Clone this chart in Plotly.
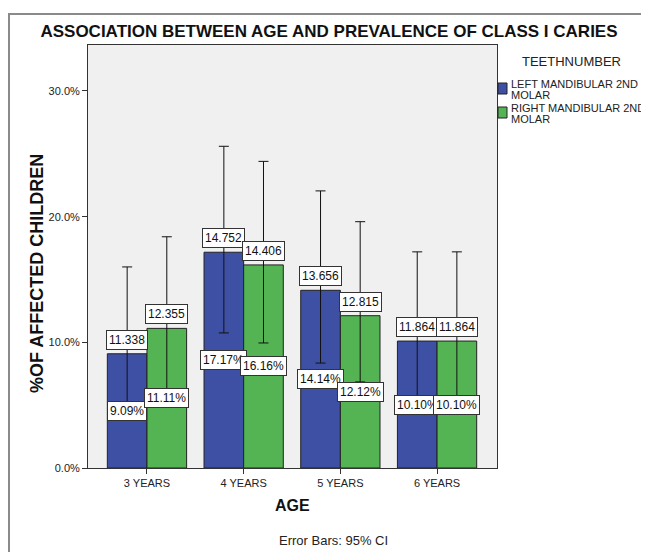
import plotly.graph_objects as go

# ---------------- data ----------------
ages = ["3 YEARS", "4 YEARS", "5 YEARS", "6 YEARS"]
left_pct = [9.09, 17.17, 14.14, 10.10]
right_pct = [11.11, 16.16, 12.12, 10.10]
left_ci_upper = [16.0, 25.6, 22.05, 17.2]
left_ci_lower = [4.05, 10.75, 8.35, 5.25]
right_ci_upper = [18.4, 24.4, 19.6, 17.2]
right_ci_lower = [6.0, 9.95, 6.85, 5.25]
left_top_labels = ["11.338", "14.752", "13.656", "11.864"]
right_top_labels = ["12.355", "14.406", "12.815", "11.864"]
left_pct_labels = ["9.09%", "17.17%", "14.14%", "10.10%"]
right_pct_labels = ["11.11%", "16.16%", "12.12%", "10.10%"]
series_names = ["LEFT MANDIBULAR 2ND MOLAR", "RIGHT MANDIBULAR 2ND MOLAR"]
y_ticks = [0, 10, 20, 30]
y_tick_labels = ["0.0%", "10.0%", "20.0%", "30.0%"]

# ---------------- style ----------------
W, H = 649, 552
OFF = 8  # the html page's body margin
# plot area in page pixels: x 88..497, y 45..468
PL, PR, PT, PB = 88, 497, 45, 468
ML, MT = PL - OFF, PT - OFF
MR, MB = W - (PR - OFF), H - (PB - OFF)
PW, PH = PR - PL, PB - PT
FONT = "Liberation Sans, Arial, Helvetica, sans-serif"
BLUE = "#3E50A3"
GREEN = "#54B454"
BARGAP = 0.18
YMAX = 33.66
XR = [-0.61, 3.62]


def px2x(px):
    return (px - PL) / PW


def px2y(py):
    return (PB - py) / PH


xs = list(range(len(ages)))
off = (1 - BARGAP) / 4

fig = go.Figure()
for vals, up, lo, col, name in [
    (left_pct, left_ci_upper, left_ci_lower, BLUE, series_names[0]),
    (right_pct, right_ci_upper, right_ci_lower, GREEN, series_names[1]),
]:
    fig.add_trace(go.Bar(
        x=xs, y=vals, name=name,
        marker=dict(color=col, line=dict(color="#222222", width=1)),
        error_y=dict(type="data", symmetric=False,
                     array=[u - v for u, v in zip(up, vals)],
                     arrayminus=[v - l for v, l in zip(vals, lo)],
                     color="#111111", thickness=1, width=5),
        showlegend=False,
    ))

annotations = []
lab_font = dict(family=FONT, size=12, color="#111111")
for i in xs:
    for sgn, vals, tops, pcts in [(-1, left_pct, left_top_labels, left_pct_labels),
                                  (1, right_pct, right_top_labels, right_pct_labels)]:
        cx = i + sgn * off
        annotations.append(dict(x=cx, y=vals[i], xref="x", yref="y", text=tops[i],
                                showarrow=False, xanchor="center", yanchor="bottom", yshift=4,
                                bgcolor="white", bordercolor="#333333", borderwidth=1,
                                borderpad=2, font=lab_font))
        annotations.append(dict(x=cx, y=vals[i] / 2, xref="x", yref="y", text=pcts[i],
                                showarrow=False, xanchor="center", yanchor="middle",
                                bgcolor="white", bordercolor="#333333", borderwidth=1,
                                borderpad=2, font=lab_font))

# axis titles & footnote
annotations.append(dict(x=px2x(37), y=px2y(274), xref="paper", yref="paper",
                        xanchor="center", yanchor="middle",
                        text="<b>%OF AFFECTED CHILDREN</b>", textangle=-90, showarrow=False,
                        font=dict(family=FONT, size=18, color="#111111")))
annotations.append(dict(x=px2x(292), y=px2y(506), xref="paper", yref="paper",
                        xanchor="center", yanchor="middle",
                        text="<b>AGE</b>", showarrow=False,
                        font=dict(family=FONT, size=16, color="#111111")))
annotations.append(dict(x=px2x(333), y=px2y(540), xref="paper", yref="paper",
                        xanchor="center", yanchor="middle",
                        text="Error Bars: 95% CI", showarrow=False,
                        font=dict(family=FONT, size=13, color="#222222")))

# legend (manual)
annotations.append(dict(x=px2x(571), y=px2y(62), xref="paper", yref="paper",
                        xanchor="center", yanchor="middle",
                        text="TEETHNUMBER", showarrow=False,
                        font=dict(family=FONT, size=13, color="#222222")))
leg_font = dict(family=FONT, size=11, color="#222222")
leg_lines = [("LEFT MANDIBULAR 2ND", 84), ("MOLAR", 95),
             ("RIGHT MANDIBULAR 2ND", 108), ("MOLAR", 119)]
for txt, py in leg_lines:
    annotations.append(dict(x=px2x(509), y=px2y(py), xref="paper", yref="paper",
                            text=txt, showarrow=False, xanchor="left", yanchor="middle",
                            font=leg_font))

shapes = [
    # outer frame (only left & top edges fall inside the page)
    dict(type="rect", xref="paper", yref="paper", layer="below",
         x0=px2x(9), x1=px2x(720), y0=px2y(14), y1=px2y(620),
         fillcolor="rgba(0,0,0,0)", line=dict(color="#8a8a8a", width=2)),
    dict(type="rect", xref="paper", yref="paper", x0=px2x(498), x1=px2x(507),
         y0=px2y(83), y1=px2y(94), fillcolor=BLUE, line=dict(color="#222222", width=1)),
    dict(type="rect", xref="paper", yref="paper", x0=px2x(498), x1=px2x(507),
         y0=px2y(107), y1=px2y(118), fillcolor=GREEN, line=dict(color="#222222", width=1)),
]

fig.update_layout(
    width=W, height=H,
    margin=dict(l=ML, r=MR, t=MT, b=MB, pad=0),
    paper_bgcolor="white", plot_bgcolor="#F0F0F0",
    barmode="group", bargap=BARGAP, bargroupgap=0,
    title=dict(text="<b>ASSOCIATION BETWEEN AGE AND PREVALENCE OF CLASS I CARIES</b>",
               x=(329 - OFF) / W, xref="container", xanchor="center",
               y=1 - (31 - OFF) / H, yref="container", yanchor="middle",
               font=dict(family=FONT, size=17, color="#111111")),
    xaxis=dict(tickmode="array", tickvals=xs, ticktext=ages, range=XR,
               showline=True, linecolor="#333333", linewidth=1, mirror=True,
               ticks="outside", ticklen=5, tickcolor="#333333",
               tickfont=dict(family=FONT, size=11, color="#222222"),
               showgrid=False, zeroline=False),
    yaxis=dict(range=[0, YMAX], tickmode="array", tickvals=y_ticks, ticktext=y_tick_labels,
               showline=True, linecolor="#333333", linewidth=1, mirror=True,
               ticks="outside", ticklen=5, tickcolor="#333333",
               tickfont=dict(family=FONT, size=11, color="#222222"),
               showgrid=False, zeroline=False),
    annotations=annotations, shapes=shapes,
    showlegend=False,
)

fig.write_html("out.html")
